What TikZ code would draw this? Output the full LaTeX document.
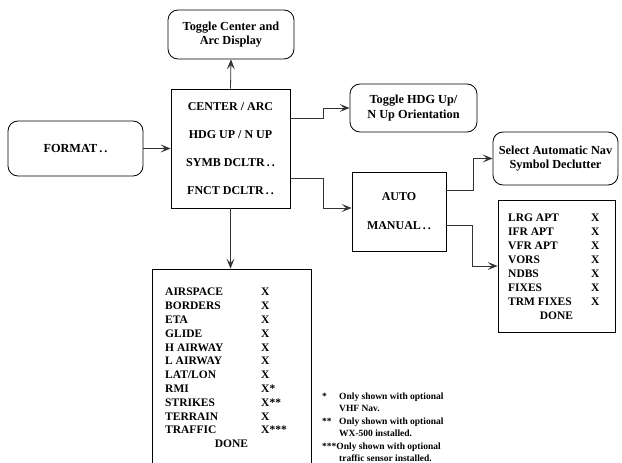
\documentclass[tikz,border=0pt]{standalone}
\usepackage{fontspec}
\setmainfont{Liberation Serif}
\usetikzlibrary{arrows.meta,calc}
\begin{document}
\begin{tikzpicture}[x=1pt,y=-1pt,
  rbox/.style={draw, rounded corners=10pt, line width=0.8pt, align=center, inner sep=0pt,
    font=\fontsize{12.3}{14.3}\selectfont\bfseries},
  sbox/.style={draw, line width=0.8pt, align=center, inner sep=0pt},
  conn/.style={line width=0.8pt, draw=black!80, -{Stealth[length=10pt,width=8pt,inset=4.5pt]}},
  lst/.style={font=\fontsize{11.5}{13.8}\selectfont\bfseries, inner sep=0pt, anchor=base west},
  lsttwo/.style={font=\fontsize{11.5}{14}\selectfont\bfseries, inner sep=0pt, anchor=base west},
  donetxt/.style={font=\fontsize{11.5}{13.8}\selectfont\bfseries, inner sep=0pt, anchor=base},
  fn/.style={font=\fontsize{9.5}{12.4}\selectfont\bfseries, inner sep=0pt, anchor=base west}]
\useasboundingbox (0,0) rectangle (622,463);

% boxes
\node[rbox, minimum width=126pt, minimum height=49pt] (toggleca) at (231,34.5)
  {Toggle Center and\\Arc Display};
\node[rbox, minimum width=135pt, minimum height=55pt] (format) at (75.5,148.5)
  {FORMAT\,.\,.};
\node[sbox, minimum width=119pt, minimum height=119pt,
  font=\fontsize{12}{28}\selectfont\bfseries] (main) at (230.5,148.5)
  {CENTER / ARC\\HDG UP / N UP\\SYMB DCLTR\,.\,.\\FNCT DCLTR\,.\,.};
\node[rbox, minimum width=127pt, minimum height=48pt] (hdg) at (413.5,108)
  {Toggle HDG Up/\\N Up Orientation};
\node[sbox, minimum width=94pt, minimum height=79pt,
  font=\fontsize{12}{29}\selectfont\bfseries] (auto) at (399,211.5)
  {AUTO\\MANUAL\,.\,.};
\node[rbox, minimum width=125pt, minimum height=53pt] (select) at (555.5,158.5)
  {Select Automatic Nav\\Symbol Declutter};
\node[sbox, minimum width=117pt, minimum height=132pt] (lrg) at (556.5,266) {};
\node[sbox, minimum width=159pt, minimum height=221pt] (list) at (231.5,379.5) {};

% list contents
\node[lst] (listtxt) at (165,295.8) {\begin{tabular}[t]{@{}p{96pt}@{}l@{}}
AIRSPACE & X\\
BORDERS & X\\
ETA & X\\
GLIDE & X\\
H AIRWAY & X\\
L AIRWAY & X\\
LAT/LON & X\\
RMI & X*\\
STRIKES & X**\\
TERRAIN & X\\
TRAFFIC & X***
\end{tabular}};
\node[donetxt] (listdone) at (231.5,447.8) {DONE};

\node[lsttwo] (lrgtxt) at (508,221) {\begin{tabular}[t]{@{}p{83pt}@{}l@{}}
LRG APT & X\\
IFR APT & X\\
VFR APT & X\\
VORS & X\\
NDBS & X\\
FIXES & X\\
TRM FIXES & X
\end{tabular}};
\node[donetxt] (lrgdone) at (556.5,319) {DONE};

% footnotes
\node[fn] (notes) at (322,399.5) {\begin{tabular}[t]{@{}p{17pt}@{}l@{}}
{*} & Only shown with optional\\
{} & VHF Nav.\\
{**} & Only shown with optional\\
{} & WX-500 installed.\\
\multicolumn{2}{@{}l@{}}{***Only shown with optional}\\
{} & traffic sensor installed.
\end{tabular}};

% connectors
\draw[conn] (main.north) -- (toggleca.south);
\draw[conn] (format.east) -- (main.west);
\draw[conn] (main.east |- 0,118) -- ++(33,0) |- (hdg.west);
\draw[conn] (main.east |- 0,178) -- ++(33,0) |- (auto.west |- 0,208);
\draw[conn] (auto.east |- 0,190) -- ++(27,0) |- (select.west);
\draw[conn] (auto.east |- 0,225) -- ++(26,0) |- (lrg.west);
\draw[conn] (main.south) -- (main.south |- list.north);
\end{tikzpicture}
\end{document}
